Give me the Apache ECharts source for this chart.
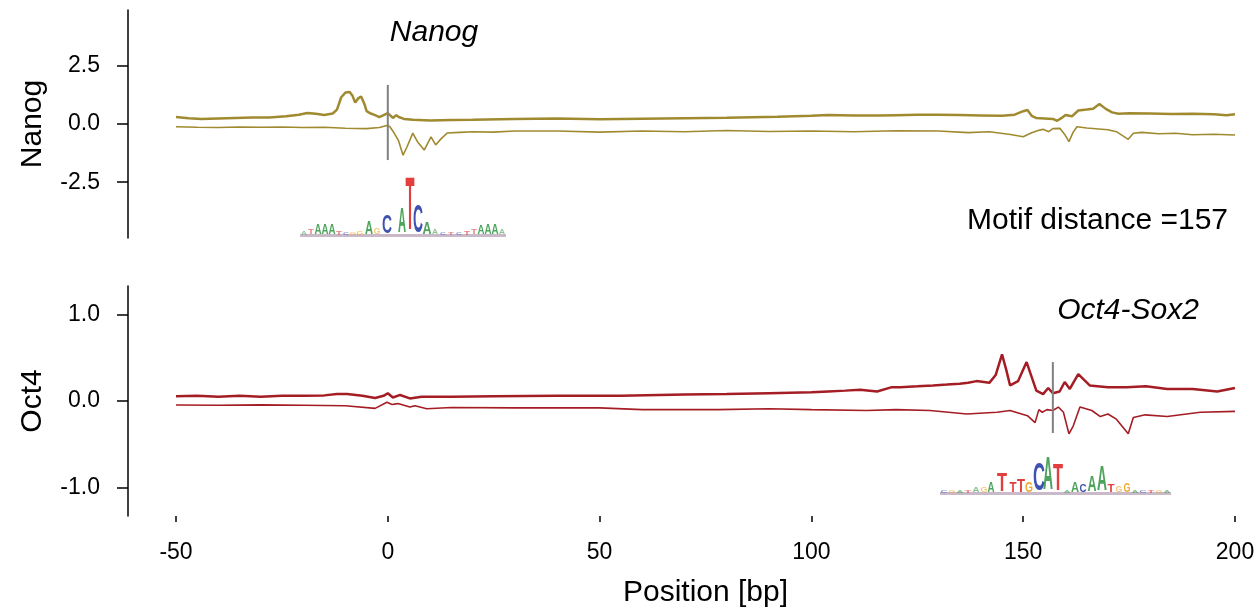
<!DOCTYPE html>
<html>
<head>
<meta charset="utf-8">
<script src="https://cdn.jsdelivr.net/npm/echarts@6/dist/echarts.min.js"></script>
<style>
  html, body { margin: 0; padding: 0; background: #fff; }
  #chart { width: 1260px; height: 612px; }
</style>
</head>
<body>
<div id="chart"></div>
<script>
// x range and tick labels
const xTicks = [-50, 0, 50, 100, 150, 200];
const nanogTicks = [-2.5, 0, 2.5];
const oct4Ticks = [-1, 0, 1];

// Nanog profile, forward strand (upper, thick)
const nanogFwdX = [-50, -47, -44, -40, -36, -32, -28, -24, -21, -19, -17, -15, -13, -12, -11, -10, -9, -8.3, -7.7, -7, -6.3, -5.5, -5, -4, -3, -2, -1, 0, 0.7, 1.2, 2, 2.6, 3.8, 6, 10, 15, 20, 30, 40, 50, 60, 70, 80, 92, 100, 104, 110, 116, 120, 125, 130, 135, 140, 145, 148, 150, 151, 152, 153, 155, 157, 158, 159, 160, 161.5, 163, 165, 166.5, 168, 169.5, 171, 172.5, 175, 180, 185, 190, 195, 198, 200];
const nanogFwdY = [0.30, 0.25, 0.22, 0.24, 0.26, 0.28, 0.28, 0.33, 0.40, 0.47, 0.44, 0.39, 0.45, 0.62, 1.15, 1.35, 1.38, 1.2, 0.92, 1.1, 1.18, 0.85, 0.55, 0.45, 0.38, 0.30, 0.38, 0.47, 0.35, 0.26, 0.38, 0.30, 0.22, 0.18, 0.15, 0.17, 0.18, 0.22, 0.24, 0.20, 0.23, 0.25, 0.27, 0.31, 0.35, 0.39, 0.37, 0.36, 0.38, 0.40, 0.40, 0.39, 0.37, 0.35, 0.40, 0.55, 0.60, 0.35, 0.26, 0.24, 0.22, 0.14, 0.25, 0.39, 0.33, 0.58, 0.62, 0.66, 0.86, 0.65, 0.50, 0.44, 0.46, 0.45, 0.43, 0.44, 0.42, 0.38, 0.42];

// Nanog profile, reverse strand (lower, thin)
const nanogRevX = [-50, -45, -40, -35, -30, -25, -20, -15, -10, -5, -2, 0, 0.5, 1.3, 2.5, 3.6, 4.5, 5.9, 7, 8.6, 10.2, 11.3, 12.5, 14, 17, 20, 25, 30, 40, 50, 60, 70, 80, 90, 100, 110, 120, 130, 137, 142, 147, 150, 152, 153.5, 154.7, 156, 157, 158.7, 159.8, 160.8, 161.8, 162.7, 165, 170, 172, 174.8, 176, 178, 182, 186, 190, 195, 200];
const nanogRevY = [-0.12, -0.14, -0.15, -0.13, -0.14, -0.13, -0.15, -0.14, -0.18, -0.20, -0.15, -0.05, -0.12, -0.33, -0.70, -1.34, -1.0, -0.39, -0.76, -1.12, -0.55, -0.90, -0.65, -0.39, -0.36, -0.33, -0.35, -0.30, -0.30, -0.35, -0.30, -0.33, -0.28, -0.32, -0.30, -0.33, -0.29, -0.30, -0.37, -0.33, -0.45, -0.55, -0.38, -0.28, -0.23, -0.33, -0.20, -0.19, -0.45, -0.76, -0.35, -0.12, -0.17, -0.25, -0.33, -0.66, -0.40, -0.36, -0.42, -0.40, -0.46, -0.44, -0.47];

// Oct4 profile, forward strand
const oct4FwdX = [-50, -45, -40, -35, -30, -25, -20, -15, -12, -9.6, -6, -3, -1, 0, 1.2, 2.9, 5.2, 8, 15, 25, 40, 55, 70, 80, 90, 100, 104, 108, 111.5, 115.5, 119, 121, 125, 128.7, 132, 135, 137, 139, 142, 143.5, 145, 146, 146.9, 148.8, 150.8, 153.1, 154.7, 155.9, 157, 158.6, 159.8, 161, 163, 165.7, 170, 174.4, 179, 184, 190, 195.8, 200];
const oct4FwdY = [0.054, 0.06, 0.05, 0.06, 0.05, 0.06, 0.06, 0.065, 0.08, 0.08, 0.06, 0.035, 0.06, 0.09, 0.04, 0.07, 0.03, 0.05, 0.05, 0.055, 0.06, 0.06, 0.075, 0.08, 0.09, 0.10, 0.11, 0.12, 0.13, 0.11, 0.16, 0.16, 0.17, 0.18, 0.19, 0.20, 0.21, 0.23, 0.21, 0.30, 0.54, 0.36, 0.18, 0.23, 0.45, 0.12, 0.08, 0.15, 0.09, 0.11, 0.22, 0.14, 0.31, 0.18, 0.16, 0.16, 0.17, 0.14, 0.14, 0.11, 0.15];

// Oct4 profile, reverse strand
const oct4RevX = [-50, -40, -30, -20, -10, -3, -0.2, 1, 2.4, 5.2, 6.4, 9.2, 15, 30, 50, 60, 78, 90, 100, 113, 120, 128, 136.7, 143.8, 146.9, 151, 152.8, 153.7, 154.5, 155.6, 157, 158.3, 159.5, 160.8, 161.8, 163.4, 166.2, 168.2, 170, 172, 174.8, 176, 178.8, 184, 191.8, 200];
const oct4RevY = [-0.046, -0.05, -0.045, -0.05, -0.055, -0.085, -0.015, -0.04, -0.03, -0.07, -0.055, -0.09, -0.075, -0.08, -0.08, -0.10, -0.10, -0.09, -0.10, -0.11, -0.10, -0.11, -0.15, -0.13, -0.11, -0.17, -0.25, -0.10, -0.13, -0.10, -0.11, -0.07, -0.13, -0.38, -0.29, -0.07, -0.11, -0.18, -0.15, -0.21, -0.38, -0.19, -0.16, -0.18, -0.13, -0.12];

// motif centre markers
const nanogMotifX = [0, 0];
const nanogMotifY = [1.68, -1.55];
const oct4MotifX = [157, 157];
const oct4MotifY = [0.45, -0.37];

const OLIVE = '#a08a30';
const RED = '#a51d24';
const FONT = "'Liberation Sans', Arial, sans-serif";

function pairs(xs, ys) {
  return xs.map((x, i) => [x, ys[i]]);
}

// sequence-logo letters: [xCentre, letter, topY, colour, width]
const LG = '#3a9a4a', LR = '#e02828', LB = '#2a3fa8', LO = '#f0a020';
const nanogLogo = [
  [304, 'A', 231, LG, 6], [311, 'T', 230, LR, 6], [318, 'A', 225, LG, 7], [325, 'A', 224, LG, 7],
  [332, 'A', 225, LG, 7], [339, 'T', 231, LR, 6], [346, 'C', 232, LB, 6], [353, 'G', 232, LO, 7],
  [360, 'G', 231, LO, 7], [369, 'A', 222, LG, 8], [377, 'G', 229, LO, 7], [387, 'C', 217, LB, 10],
  [402, 'A', 210, LG, 8], [410, 'T', 182, LR, 9], [418, 'C', 207, LB, 10], [427, 'A', 223, LG, 9],
  [435, 'A', 230, LG, 6], [443, 'C', 232, LB, 6], [451, 'T', 233, LR, 6], [459, 'C', 233, LB, 6],
  [467, 'T', 231, LR, 6], [474, 'T', 230, LR, 6], [481, 'A', 226, LG, 7], [488, 'A', 225, LG, 7],
  [495, 'A', 225, LG, 7], [502, 'A', 230, LG, 6]
];
const oct4Logo = [
  [944, 'C', 490, LB, 7], [952, 'G', 490, LO, 7], [960, 'A', 490, LG, 7], [968, 'T', 490, LR, 7],
  [976, 'A', 488, LG, 7], [984, 'G', 488, LO, 7], [991, 'A', 483, LG, 7], [1002, 'T', 475, LR, 10],
  [1013, 'T', 483, LR, 7], [1021, 'T', 480, LR, 8], [1029, 'G', 482, LO, 8], [1039, 'C', 465, LB, 12],
  [1048, 'A', 460, LG, 10], [1058, 'T', 467, LR, 10], [1067, 'A', 490, LG, 7], [1075, 'A', 483, LG, 8],
  [1083, 'C', 485, LB, 7], [1092, 'A', 477, LG, 9], [1102, 'A', 468, LG, 10], [1111, 'T', 485, LR, 7],
  [1119, 'G', 486, LO, 7], [1127, 'G', 484, LO, 7], [1135, 'A', 490, LG, 7], [1143, 'C', 490, LB, 7],
  [1151, 'T', 490, LR, 7], [1159, 'G', 490, LO, 7], [1167, 'A', 490, LG, 7]
];

function logoElements(letters, base) {
  const natW = { A: 14.4, C: 14.4, G: 15.6, T: 12.2 };
  const els = [{
    type: 'rect',
    shape: { x: letters[0][0] - 4, y: base - 1, width: letters[letters.length - 1][0] - letters[0][0] + 8, height: 3 },
    style: { fill: '#c9b9c9' }
  }];
  letters.forEach(l => {
    const h = Math.max(base - l[2], 2);
    els.push({
      type: 'text',
      x: l[0], y: base - h / 2,
      scaleX: l[4] / natW[l[1]],
      scaleY: h / 14.3,
      style: {
        text: l[1], x: 0, y: 0, fill: l[3], opacity: h < 8 ? 0.6 : 0.9,
        font: 'bold 20px ' + FONT, align: 'center', verticalAlign: 'middle'
      }
    });
  });
  return els;
}

const chart = echarts.init(document.getElementById('chart'));

const yAxisBase = {
  type: 'value',
  offset: 48,
  axisLine: { show: true, onZero: false, lineStyle: { color: '#000', width: 1.5 } },
  splitLine: { show: false },
  nameLocation: 'middle',
  nameRotate: 90,
  nameGap: 80,
  nameTextStyle: { color: '#000', fontSize: 30, fontFamily: FONT }
};

chart.setOption({
  animation: false,
  grid: [
    { left: 176, right: 25, top: 10, height: 228 },
    { left: 176, right: 25, top: 286, height: 230 }
  ],
  xAxis: [
    { type: 'value', gridIndex: 0, min: -50, max: 200, show: false },
    {
      type: 'value', gridIndex: 1, min: -50, max: 200, interval: 50,
      axisLine: { show: false, onZero: false },
      axisTick: { show: true, length: 6, lineStyle: { color: '#000', width: 1.5 } },
      splitLine: { show: false },
      axisLabel: { color: '#000', fontSize: 23, fontFamily: FONT, margin: 25,
        customValues: xTicks },
      name: 'Position [bp]', nameLocation: 'middle', nameGap: 62,
      nameTextStyle: { color: '#000', fontSize: 30, fontFamily: FONT }
    }
  ],
  yAxis: [
    Object.assign({}, yAxisBase, {
      gridIndex: 0, min: -4.9, max: 4.9, name: 'Nanog',
      axisTick: { show: true, length: 11, customValues: nanogTicks, lineStyle: { color: '#000', width: 1.5 } },
      axisLabel: { color: '#000', fontSize: 23, fontFamily: FONT, margin: 28,
        customValues: nanogTicks, formatter: v => v.toFixed(1) }
    }),
    Object.assign({}, yAxisBase, {
      gridIndex: 1, min: -1.33, max: 1.33, name: 'Oct4',
      axisTick: { show: true, length: 11, customValues: oct4Ticks, lineStyle: { color: '#000', width: 1.5 } },
      axisLabel: { color: '#000', fontSize: 23, fontFamily: FONT, margin: 28,
        customValues: oct4Ticks, formatter: v => v.toFixed(1) }
    })
  ],
  series: [
    { type: 'line', xAxisIndex: 0, yAxisIndex: 0, data: pairs(nanogFwdX, nanogFwdY),
      showSymbol: false, lineStyle: { color: OLIVE, width: 2.5 } },
    { type: 'line', xAxisIndex: 0, yAxisIndex: 0, data: pairs(nanogRevX, nanogRevY),
      showSymbol: false, lineStyle: { color: OLIVE, width: 1.6 } },
    { type: 'line', xAxisIndex: 0, yAxisIndex: 0, data: pairs(nanogMotifX, nanogMotifY),
      showSymbol: false, lineStyle: { color: '#808080', width: 2 } },
    { type: 'line', xAxisIndex: 1, yAxisIndex: 1, data: pairs(oct4FwdX, oct4FwdY),
      showSymbol: false, lineStyle: { color: RED, width: 2.5 } },
    { type: 'line', xAxisIndex: 1, yAxisIndex: 1, data: pairs(oct4RevX, oct4RevY),
      showSymbol: false, lineStyle: { color: RED, width: 1.6 } },
    { type: 'line', xAxisIndex: 1, yAxisIndex: 1, data: pairs(oct4MotifX, oct4MotifY),
      showSymbol: false, lineStyle: { color: '#808080', width: 2 } }
  ],
  graphic: [
    { type: 'text', x: 434, y: 33, style: { text: 'Nanog', fill: '#000', align: 'center', verticalAlign: 'middle',
      font: 'italic 30px ' + FONT } },
    { type: 'text', x: 1128, y: 311, style: { text: 'Oct4-Sox2', fill: '#000', align: 'center', verticalAlign: 'middle',
      font: 'italic 30px ' + FONT } },
    { type: 'text', x: 1228, y: 221, style: { text: 'Motif distance =157', fill: '#000', align: 'right', verticalAlign: 'middle',
      font: '30px ' + FONT } }
  ].concat(logoElements(nanogLogo, 235), logoElements(oct4Logo, 493))
});
</script>
</body>
</html>
